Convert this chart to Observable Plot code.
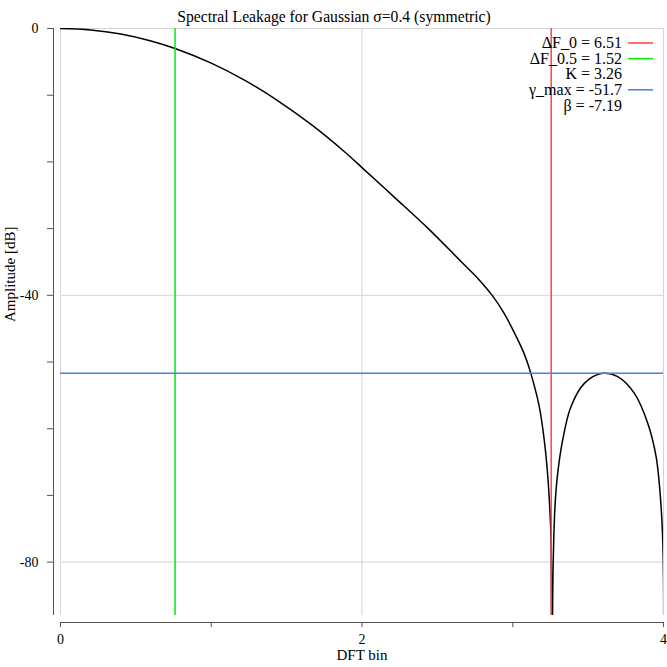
<!DOCTYPE html>
<html>
<head>
<meta charset="utf-8">
<script src="https://cdn.jsdelivr.net/npm/d3@7"></script>
<script src="https://cdn.jsdelivr.net/npm/@observablehq/plot@0.6"></script>
<style>
  html, body { margin: 0; padding: 0; background: #fff; }
  #chart { width: 667px; height: 667px; }
</style>
</head>
<body>
<div id="chart"></div>
<script>
// ---- data ----
const binX = [0, 0.2, 0.4, 0.6, 0.76, 1.0, 1.22, 1.44, 1.66, 1.88, 2.0, 2.21, 2.44, 2.66, 2.77, 2.86, 2.94, 3.03, 3.08, 3.12, 3.176, 3.209, 3.231, 3.245, 3.254, 3.26, 3.267, 3.28, 3.298, 3.331, 3.386, 3.475, 3.597, 3.696, 3.807, 3.896, 3.951, 3.984, 3.998, 4.0];
const ampDb = [0, -0.21, -0.83, -1.87, -3.0, -5.2, -7.75, -10.8, -14.35, -18.4, -20.85, -25.2, -30.0, -35.0, -37.5, -39.9, -42.6, -46.5, -49.0, -51.7, -56.7, -61.7, -66.7, -71.7, -76.6, -100, -81.6, -71.7, -66.7, -61.7, -56.7, -53.2, -51.7, -52.2, -54.7, -59.2, -64.2, -71.7, -79.2, -100];

const deltaF0 = 6.51;
const deltaF05 = 1.52;
const kValue = 3.26;
const gammaMax = -51.7;
const beta = -7.19;

const legendLabels = ["ΔF_0 = 6.51", "ΔF_0.5 = 1.52", "K = 3.26", "γ_max = -51.7", "β = -7.19"];
const legendColors = ["#ff4040", "#00ee00", null, "#4a7fe6", null];

const xTicks = [0, 1, 2, 3, 4];
const xTickLabels = [0, 2, 4];
const yTicks = [0, -10, -20, -30, -40, -50, -60, -70, -80];
const yTickLabels = [0, -40, -80];

const titleText = "Spectral Leakage for Gaussian σ=0.4 (symmetric)";
const xLabel = "DFT bin";
const yLabel = "Amplitude [dB]";

const curve = binX.map((x, i) => ({x, y: ampDb[i]}));
const FONT = "'Liberation Serif', 'DejaVu Serif', serif";

const legendMark = (index, scales, values, dim) => {
  const g = d3.create("svg:g").attr("font-family", FONT).attr("font-size", 16);
  const right = dim.width - dim.marginRight;
  legendLabels.forEach((lab, i) => {
    const y = dim.marginTop + 15 + i * 15.6;
    g.append("text").attr("x", right - 41).attr("y", y).attr("dy", "0.32em")
      .attr("text-anchor", "end").attr("fill", "#000").text(lab);
    if (legendColors[i]) {
      g.append("line").attr("x1", right - 35).attr("x2", right - 10)
        .attr("y1", y).attr("y2", y).attr("stroke", legendColors[i]).attr("stroke-width", 1.5);
    }
  });
  return g.node();
};

const chart = Plot.plot({
  width: 667,
  height: 667,
  marginLeft: 60,
  marginRight: 4,
  marginTop: 28,
  marginBottom: 52,
  style: {fontFamily: FONT, fontSize: "14px", background: "#fff", color: "#000"},
  x: {domain: [0, 4]},
  y: {domain: [-88, 0]},
  marks: [
    Plot.gridX(xTickLabels, {stroke: "#d4d4d4", strokeOpacity: 1}),
    Plot.gridY(yTickLabels, {stroke: "#d4d4d4", strokeOpacity: 1}),
    Plot.line(curve, {x: "x", y: "y", stroke: "#000", strokeWidth: 1.5, curve: "catmull-rom", clip: true}),
    Plot.ruleX([deltaF05 / 2], {stroke: legendColors[1], strokeWidth: 1.5}),
    Plot.ruleX([deltaF0 / 2], {stroke: legendColors[0], strokeWidth: 1.5}),
    Plot.ruleY([gammaMax], {stroke: legendColors[3], strokeWidth: 1.5}),
    // axes
    Plot.ruleX([0], {dx: -7, stroke: "#555"}),
    Plot.ruleY([-88], {dy: 7, stroke: "#555"}),
    Plot.axisY({ticks: yTicks, tickSize: 6, dx: -7, tickPadding: 9, stroke: "#555", fontSize: 14,
      tickFormat: d => (d % 40 === 0 ? String(d) : ""), label: null}),
    Plot.axisX({ticks: xTicks, tickSize: 5, dy: 7, tickPadding: 7, stroke: "#555", fontSize: 14,
      tickFormat: d => (d % 2 === 0 ? String(d) : ""), label: null}),
    Plot.text([xLabel], {frameAnchor: "bottom", dy: 44, fontSize: 15}),
    Plot.text([yLabel], {frameAnchor: "left", dx: -50, rotate: -90, fontSize: 15}),
    Plot.text([titleText], {frameAnchor: "top", dy: -18, dx: -28, fontSize: 15.7}),
    legendMark
  ]
});
document.getElementById("chart").appendChild(chart);
</script>
</body>
</html>
